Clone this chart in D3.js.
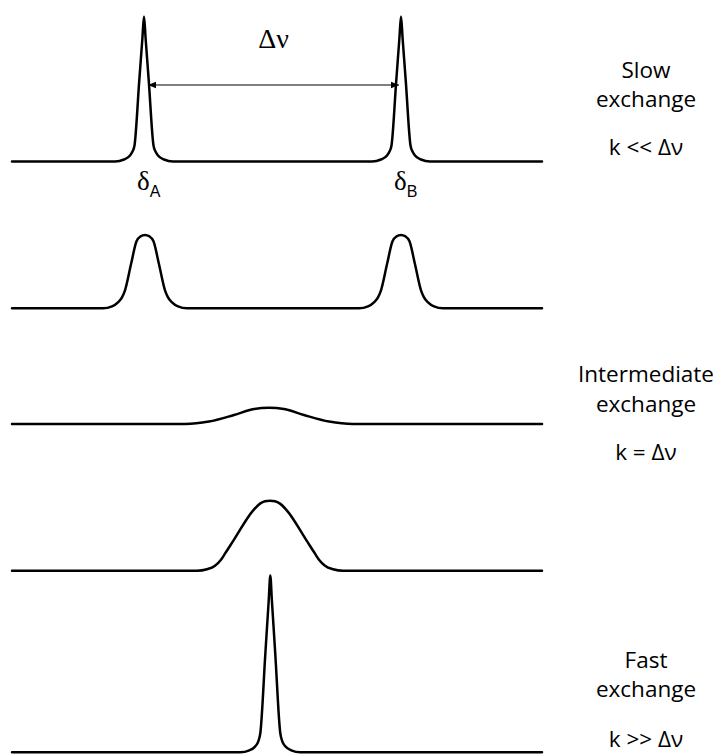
<!DOCTYPE html>
<html>
<head>
<meta charset="utf-8">
<script src="https://cdn.jsdelivr.net/npm/d3@7"></script>
<style>
  html, body { margin: 0; padding: 0; background: #fff; }
  svg { display: block; }
</style>
</head>
<body>
<svg id="chart" width="717" height="754"></svg>
<script>
// Frequency axis (Hz, relative to the centre of the two sites) and its extent
const nuExtent = [-130, 135];

// Half-profiles of each line shape: [offset from line centre (Hz), relative intensity]
// Each line is mirrored about its centre.
const slowCentres = [-64, 64.5];
const slowProfile = [[-14.5, 0], [-10, 0.014], [-7, 0.042], [-5.75, 0.07], [-4.75, 0.112], [-2.4, 0.56], [-0.8, 0.862], [0, 1.014]];

const broadCentres = [-63.5, 64.5];
const broadProfile = [[-21, 0], [-16.5, 0.014], [-13.5, 0.042], [-11.5, 0.077], [-10, 0.126], [-7, 0.308], [-4.25, 0.469], [-2.25, 0.503], [0, 0.513]];

const coalescedCentres = [-1.5];
const coalescedProfile = [[-42, 0], [-30, 0.017], [-17.5, 0.063], [-7.5, 0.105], [0, 0.114]];

const mergedCentres = [-1];
const mergedProfile = [[-36.5, 0], [-31.5, 0.0105], [-27.5, 0.035], [-24.5, 0.077], [-22.5, 0.119], [-18, 0.217], [-8.5, 0.42], [-5, 0.469], [-2.5, 0.486], [0, 0.49]];

const fastCentres = [-0.85];
const fastProfile = [[-15, 0], [-10.5, 0.014], [-7.5, 0.042], [-6, 0.077], [-5, 0.133], [-2.5, 0.685], [-0.8, 1.06], [0, 1.236]];

// Separation arrow between the two slow-exchange sites
const arrowSpan = [-62, 63.5];

// Regime labels
const slowLabel = ["Slow", "exchange", "k << Δν"];
const intermediateLabel = ["Intermediate", "exchange", "k = Δν"];
const fastLabel = ["Fast", "exchange", "k >> Δν"];

// ---- layout ----
const traces = [
  { centres: slowCentres, profile: slowProfile, base: 161.5 },
  { centres: broadCentres, profile: broadProfile, base: 308.3 },
  { centres: coalescedCentres, profile: coalescedProfile, base: 424 },
  { centres: mergedCentres, profile: mergedProfile, base: 570.7 },
  { centres: fastCentres, profile: fastProfile, base: 752.3 }
];
const unitHeight = 143;   // pixel height of unit intensity

const svg = d3.select("#chart");
const x = d3.scaleLinear().domain(nuExtent).range([12, 542]);

function buildTrace(centres, profile) {
  const pts = [[nuExtent[0], 0]];
  centres.forEach(c => {
    profile.forEach(([dx, y]) => pts.push([c + dx, y]));
    profile.slice(0, -1).reverse().forEach(([dx, y]) => pts.push([c - dx, y]));
  });
  pts.push([nuExtent[1], 0]);
  return pts;
}

traces.forEach(t => {
  const y = d3.scaleLinear().domain([0, 1]).range([t.base, t.base - unitHeight]);
  const line = d3.line()
    .x(d => x(d[0]))
    .y(d => y(d[1]))
    .curve(d3.curveMonotoneX);
  svg.append("path")
    .datum(buildTrace(t.centres, t.profile))
    .attr("d", line)
    .attr("fill", "none")
    .attr("stroke", "#000")
    .attr("stroke-width", 2.5)
    .attr("stroke-linejoin", "round")
    .attr("stroke-linecap", "round");
});

// arrowheads
const defs = svg.append("defs");
["start", "end"].forEach(kind => {
  defs.append("marker")
    .attr("id", "arrow-" + kind)
    .attr("viewBox", "0 0 10 10")
    .attr("refX", kind === "end" ? 10 : 0)
    .attr("refY", 5)
    .attr("markerWidth", 8)
    .attr("markerHeight", 8)
    .attr("markerUnits", "userSpaceOnUse")
    .attr("orient", "auto")
    .append("path")
    .attr("d", kind === "end" ? "M0,1 L10,5 L0,9 Z" : "M10,1 L0,5 L10,9 Z")
    .attr("fill", "#000");
});

const arrowY = 85;
svg.append("line")
  .attr("x1", x(arrowSpan[0]))
  .attr("x2", x(arrowSpan[1]))
  .attr("y1", arrowY)
  .attr("y2", arrowY)
  .attr("stroke", "#000")
  .attr("stroke-width", 1)
  .attr("marker-start", "url(#arrow-start)")
  .attr("marker-end", "url(#arrow-end)");

svg.append("text")
  .attr("x", x((arrowSpan[0] + arrowSpan[1]) / 2))
  .attr("y", 48)
  .attr("text-anchor", "middle")
  .attr("font-family", "'Liberation Serif', 'Times New Roman', serif")
  .attr("font-size", 28)
  .text("Δν");

// site labels under the slow-exchange lines
[["A", slowCentres[0]], ["B", slowCentres[1]]].forEach(([sub, c]) => {
  const t = svg.append("text")
    .attr("x", x(c) - 7)
    .attr("y", 190)
    .attr("font-family", "'Liberation Serif', 'Times New Roman', serif")
    .attr("font-size", 27);
  t.append("tspan").text("δ");
  t.append("tspan")
    .attr("dy", 7)
    .attr("font-family", "'Liberation Sans', Arial, sans-serif")
    .attr("font-size", 16)
    .text(sub);
});

// regime labels on the right
function labelBlock(lines, baselines) {
  lines.forEach((s, i) => {
    svg.append("text")
      .attr("x", 646)
      .attr("y", baselines[i])
      .attr("text-anchor", "middle")
      .attr("font-family", "'Open Sans', sans-serif")
      .attr("font-size", 22.5)
      .attr("fill", "#000")
      .text(s);
  });
}
labelBlock(slowLabel, [78, 107, 155]);
labelBlock(intermediateLabel, [382, 412, 460]);
labelBlock(fastLabel, [668, 697, 747]);
</script>
</body>
</html>
